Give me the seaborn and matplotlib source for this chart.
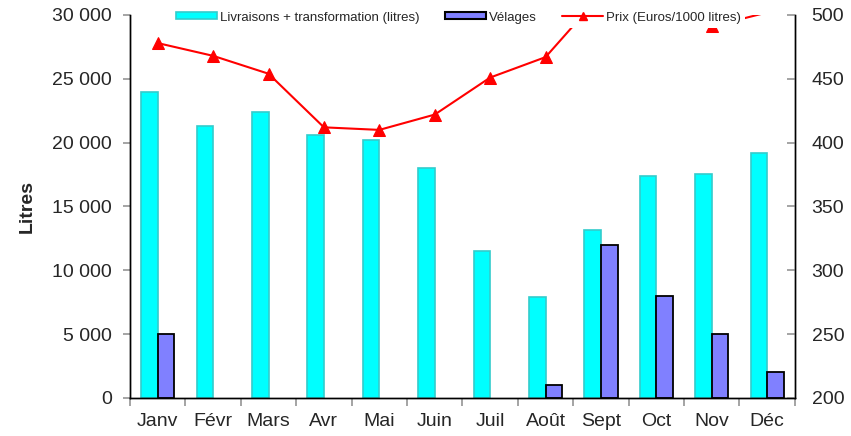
import matplotlib
matplotlib.use("Agg")
from matplotlib import pyplot as plt
from matplotlib.ticker import FuncFormatter, FixedLocator
from matplotlib.patches import Patch
from matplotlib.lines import Line2D
import seaborn as sns
import numpy as np
import pandas as pd

# data
mois = ['Janv', 'Févr', 'Mars', 'Avr', 'Mai', 'Juin', 'Juil', 'Août', 'Sept', 'Oct', 'Nov', 'Déc']
livraisons = [24000, 21300, 22400, 20600, 20200, 18000, 11500, 7900, 13150, 17400, 17550, 19200]
velages = [5000, 0, 0, 0, 0, 0, 0, 1000, 12000, 8000, 5000, 2000]
prix = [478, 468, 454, 412, 410, 422, 451, 467, 516, 512, 491, 502]

lab_liv = 'Livraisons + transformation (litres)'
lab_vel = 'Vélages'
lab_prix = 'Prix (Euros/1000 litres)'

df = pd.DataFrame({
    'mois': mois * 2,
    'valeur': livraisons + velages,
    'serie': [lab_liv] * len(mois) + [lab_vel] * len(mois),
})

sns.set_theme(style='white')
plt.rcParams['font.family'] = ['Liberation Sans', 'DejaVu Sans']

fig = plt.figure(figsize=(8.51, 4.36), dpi=100)
ax = fig.add_axes([0.1528, 0.0872, 0.7812, 0.8784])

sns.barplot(data=df, x='mois', y='valeur', hue='serie', order=mois,
            hue_order=[lab_liv, lab_vel], palette=['#00FFFF', '#8080FF'],
            width=0.6, gap=0, saturation=1, ax=ax)
for bar in ax.containers[0]:
    bar.set_edgecolor('#33CCCC')
    bar.set_linewidth(1.2)
for bar, v in zip(ax.containers[1], velages):
    if v == 0:
        bar.set_visible(False)
    bar.set_edgecolor('black')
    bar.set_linewidth(1.3)
ax.get_legend().remove()

ax.set_xlim(-0.5, len(mois) - 0.5)
ax.set_ylim(0, 30000)
ax.set_yticks(range(0, 30001, 5000))
ax.yaxis.set_major_formatter(FuncFormatter(lambda v, p: '{:,.0f}'.format(v).replace(',', ' ')))
ax.set_ylabel('Litres', fontsize=14, fontweight='bold', labelpad=12)
ax.set_xlabel('')

# month labels on minor ticks, tick marks between months
ax.xaxis.set_major_locator(FixedLocator(np.arange(-0.5, len(mois), 1)))
ax.xaxis.set_minor_locator(FixedLocator(np.arange(len(mois))))
ax.set_xticklabels([], minor=False)
ax.set_xticklabels(mois, minor=True)
ax.tick_params(axis='x', which='major', direction='out', length=6, color='#999999', bottom=True)
ax.tick_params(axis='x', which='minor', length=0, pad=11, labelsize=14, bottom=True)
ax.tick_params(axis='y', direction='out', length=5, color='#999999', pad=8, labelsize=14, left=True)

# prices above the axis max get no marker (as in the original)
ax2 = ax.twinx()
ymax2 = 500
shown = [i for i, v in enumerate(prix) if v <= ymax2]
sns.lineplot(x=np.arange(len(mois)), y=prix, ax=ax2, color='red', marker='^',
             markersize=8, markeredgecolor='red', linewidth=1.5, markevery=shown)
ax2.set_ylim(200, ymax2)
ax2.set_yticks(range(200, 501, 50))
ax2.tick_params(axis='y', direction='in', length=6, color='#999999', pad=12, labelsize=14, right=True)

for a in (ax, ax2):
    a.spines['top'].set_visible(False)
    for s in ('left', 'right', 'bottom'):
        a.spines[s].set_color('black')
        a.spines[s].set_linewidth(1.0)

handles = [
    Patch(facecolor='#00FFFF', edgecolor='#33CCCC', linewidth=1.2),
    Patch(facecolor='#8080FF', edgecolor='black', linewidth=1.5),
    Line2D([], [], color='red', marker='^', markersize=6, linewidth=1.5),
]
leg = fig.legend(handles, [lab_liv, lab_vel, lab_prix], loc='upper center',
                 bbox_to_anchor=(0.539, 1 - 1 / 436), ncol=3, fontsize=9.5,
                 frameon=True, facecolor='white', edgecolor='white', framealpha=1,
                 fancybox=False, handlelength=3.1, handleheight=0.45,
                 columnspacing=1.9, handletextpad=0.25, borderpad=0.3)
leg.get_frame().set_linewidth(0)

fig.savefig('out.png', dpi=100)
